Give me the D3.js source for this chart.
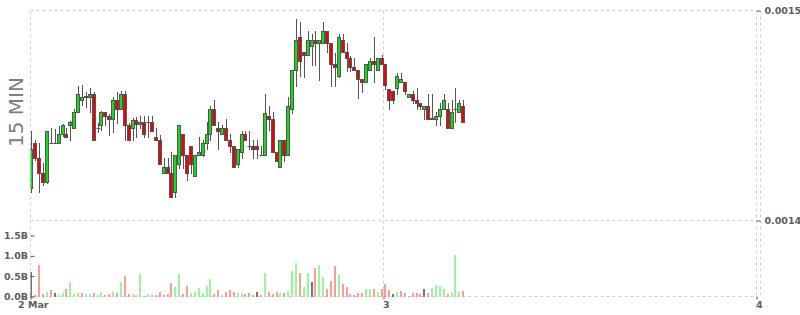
<!DOCTYPE html>
<html><head><meta charset="utf-8">
<script src="https://cdn.jsdelivr.net/npm/d3@7"></script>
<style>html,body{margin:0;padding:0;background:#fff;}svg{display:block;}</style>
</head><body>
<script>
// ---- data (15-minute candles) ----
const openPrice = [0.0014156,0.0014370,0.0014299,0.0014227,0.0014184,0.0014370,0.0014370,0.0014370,0.0014413,0.0014413,
0.0014456,0.0014441,0.0014518,0.0014575,0.0014589,0.0014589,0.0014603,0.0014441,0.0014456,0.0014518,
0.0014499,0.0014484,0.0014575,0.0014532,0.0014603,0.0014456,0.0014441,0.0014480,0.0014460,0.0014470,
0.0014470,0.0014470,0.0014399,0.0014384,0.0014227,0.0014256,0.0014227,0.0014137,0.0014270,0.0014413,
0.0014313,0.0014356,0.0014213,0.0014313,0.0014313,0.0014370,0.0014413,0.0014532,0.0014441,0.0014413,
0.0014441,0.0014384,0.0014356,0.0014270,0.0014327,0.0014413,0.0014356,0.0014356,0.0014356,0.0014313,
0.0014313,0.0014499,0.0014484,0.0014327,0.0014256,0.0014384,0.0014313,0.0014532,0.0014718,0.0014875,
0.0014803,0.0014789,0.0014832,0.0014860,0.0014846,0.0014846,0.0014903,0.0014846,0.0014746,0.0014689,
0.0014860,0.0014803,0.0014775,0.0014732,0.0014718,0.0014675,0.0014660,0.0014718,0.0014760,0.0014718,
0.0014775,0.0014746,0.0014627,0.0014618,0.0014632,0.0014660,0.0014660,0.0014589,0.0014603,0.0014575,
0.0014560,0.0014532,0.0014546,0.0014484,0.0014484,0.0014499,0.0014532,0.0014532,0.0014441,0.0014532,
0.0014518,0.0014546];
const highPrice = [0.0014427,0.0014384,0.0014370,0.0014275,0.0014427,0.0014441,0.0014437,0.0014451,0.0014460,0.0014441,
0.0014475,0.0014532,0.0014641,0.0014646,0.0014613,0.0014632,0.0014613,0.0014465,0.0014522,0.0014518,
0.0014508,0.0014589,0.0014613,0.0014618,0.0014618,0.0014465,0.0014489,0.0014494,0.0014499,0.0014499,
0.0014499,0.0014499,0.0014441,0.0014408,0.0014299,0.0014299,0.0014327,0.0014313,0.0014456,0.0014413,
0.0014313,0.0014356,0.0014313,0.0014399,0.0014384,0.0014470,0.0014546,0.0014575,0.0014470,0.0014456,
0.0014484,0.0014413,0.0014356,0.0014341,0.0014427,0.0014427,0.0014427,0.0014384,0.0014384,0.0014356,
0.0014603,0.0014546,0.0014518,0.0014327,0.0014384,0.0014384,0.0014589,0.0014718,0.0014961,0.0014946,
0.0014803,0.0014903,0.0014889,0.0014903,0.0014860,0.0014946,0.0014903,0.0014846,0.0014799,0.0014889,
0.0014889,0.0014846,0.0014784,0.0014775,0.0014718,0.0014675,0.0014746,0.0014775,0.0014875,0.0014775,
0.0014789,0.0014746,0.0014627,0.0014618,0.0014703,0.0014703,0.0014660,0.0014603,0.0014618,0.0014632,
0.0014560,0.0014546,0.0014603,0.0014603,0.0014518,0.0014560,0.0014603,0.0014560,0.0014575,0.0014632,
0.0014575,0.0014575];
const lowPrice = [0.0014137,0.0014289,0.0014137,0.0014170,0.0014180,0.0014370,0.0014370,0.0014370,0.0014403,0.0014399,
0.0014384,0.0014441,0.0014518,0.0014551,0.0014541,0.0014518,0.0014384,0.0014422,0.0014432,0.0014456,
0.0014408,0.0014422,0.0014465,0.0014532,0.0014384,0.0014384,0.0014384,0.0014399,0.0014441,0.0014399,
0.0014399,0.0014427,0.0014384,0.0014270,0.0014227,0.0014227,0.0014113,0.0014113,0.0014251,0.0014251,
0.0014194,0.0014227,0.0014213,0.0014313,0.0014308,0.0014341,0.0014384,0.0014456,0.0014341,0.0014413,
0.0014384,0.0014327,0.0014256,0.0014256,0.0014299,0.0014384,0.0014341,0.0014299,0.0014299,0.0014313,
0.0014313,0.0014432,0.0014327,0.0014284,0.0014256,0.0014284,0.0014313,0.0014513,0.0014641,0.0014689,
0.0014684,0.0014789,0.0014741,0.0014741,0.0014670,0.0014846,0.0014803,0.0014641,0.0014641,0.0014684,
0.0014803,0.0014713,0.0014713,0.0014718,0.0014584,0.0014613,0.0014660,0.0014718,0.0014660,0.0014718,
0.0014746,0.0014627,0.0014532,0.0014560,0.0014603,0.0014660,0.0014603,0.0014589,0.0014560,0.0014532,
0.0014532,0.0014484,0.0014484,0.0014484,0.0014456,0.0014456,0.0014532,0.0014441,0.0014441,0.0014470,
0.0014518,0.0014470];
const closePrice = [0.0014341,0.0014299,0.0014227,0.0014184,0.0014427,0.0014370,0.0014370,0.0014413,0.0014456,0.0014399,
0.0014470,0.0014518,0.0014603,0.0014589,0.0014594,0.0014603,0.0014384,0.0014441,0.0014518,0.0014499,
0.0014484,0.0014575,0.0014532,0.0014603,0.0014456,0.0014384,0.0014480,0.0014460,0.0014470,0.0014413,
0.0014470,0.0014427,0.0014384,0.0014270,0.0014256,0.0014227,0.0014113,0.0014313,0.0014456,0.0014313,
0.0014227,0.0014270,0.0014313,0.0014327,0.0014370,0.0014413,0.0014532,0.0014456,0.0014427,0.0014441,
0.0014384,0.0014356,0.0014256,0.0014341,0.0014413,0.0014384,0.0014356,0.0014341,0.0014341,0.0014313,
0.0014513,0.0014484,0.0014327,0.0014284,0.0014384,0.0014313,0.0014546,0.0014718,0.0014860,0.0014760,
0.0014789,0.0014860,0.0014860,0.0014846,0.0014860,0.0014903,0.0014846,0.0014746,0.0014732,0.0014875,
0.0014803,0.0014775,0.0014732,0.0014718,0.0014675,0.0014660,0.0014746,0.0014760,0.0014746,0.0014775,
0.0014746,0.0014646,0.0014575,0.0014575,0.0014689,0.0014675,0.0014618,0.0014603,0.0014575,0.0014560,
0.0014546,0.0014546,0.0014484,0.0014489,0.0014499,0.0014532,0.0014575,0.0014441,0.0014518,0.0014532,
0.0014560,0.0014470];
const volume = [6.1e8,0.4e8,7.8e8,0.7e8,1.2e8,1.5e8,0.8e8,0.4e8,0.9e8,1.9e8,
3.6e8,0.7e8,0.9e8,0.9e8,0.7e8,0.5e8,0.9e8,0.4e8,1.1e8,0.4e8,
0.5e8,1.1e8,0.9e8,3.6e8,5.1e8,0.7e8,0.7e8,0.4e8,5.6e8,0.2e8,
0.7e8,0.4e8,0.3e8,1.1e8,0.4e8,0.7e8,3.4e8,2.4e8,5.6e8,0.7e8,
2.6e8,0.9e8,1.1e8,2.1e8,0.9e8,2.6e8,4.3e8,0.7e8,1.6e8,0.4e8,
1.1e8,1.6e8,1.1e8,0.9e8,0.9e8,0.7e8,0.9e8,0.4e8,1.1e8,0.4e8,
5.8e8,1.1e8,0.7e8,1.1e8,0.9e8,0.9e8,1.4e8,6.3e8,8.3e8,5.8e8,
2.4e8,5.8e8,3.6e8,7.0e8,7.8e8,4.8e8,1.9e8,3.8e8,7.5e8,5.3e8,
3.1e8,2.4e8,0.7e8,0.4e8,0.9e8,0.9e8,1.9e8,1.9e8,1.9e8,1.1e8,
1.9e8,3.1e8,1.6e8,0.7e8,1.1e8,1.4e8,0.9e8,0.2e8,0.9e8,0.9e8,
0.7e8,1.9e8,0.9e8,2.1e8,2.9e8,2.6e8,1.9e8,0.7e8,0.9e8,10.2e8,
1.1e8,1.4e8];
const dayTickIndex = [-0.25, 90.5, 186.4];
const dayTickLabels = ["2 Mar", "3", "4"];
const priceTicks = [0.0014, 0.0015];
const volumeTicks = [0, 0.5e9, 1.0e9, 1.5e9];
const volumeTickLabels = ["0.0B", "0.5B", "1.0B", "1.5B"];
const intervalLabel = "15 MIN";

// ---- layout ----
const W = 800, H = 315;
const plotLeft = 30.5, plotRight = 756.5, plotTop = 10.5, priceBottom = 220.5, volBottom = 296.5;
const svg = d3.select("body").append("svg").attr("width", W).attr("height", H);
svg.append("rect").attr("width", W).attr("height", H).attr("fill", "#fff");

const x = d3.scaleLinear().domain([dayTickIndex[0], dayTickIndex[2]]).range([plotLeft, plotRight]);
const y = d3.scaleLinear().domain([priceTicks[0], priceTicks[1]]).range([priceBottom, plotTop]);
const vy = d3.scaleLinear().domain([0, 1.5e9]).range([volBottom, 235.5]);
const n = closePrice.length;
const idx = d3.range(n);

// ---- grid ----
const grid = svg.append("g").attr("stroke", "#d2d2d2").attr("stroke-dasharray", "3,3").attr("fill", "none");
[plotTop, priceBottom, volBottom].forEach(gy => grid.append("line").attr("x1", plotLeft).attr("x2", plotRight).attr("y1", gy).attr("y2", gy));
dayTickIndex.forEach(t => grid.append("line").attr("x1", x(t)).attr("x2", x(t)).attr("y1", plotTop).attr("y2", volBottom));
grid.append("line").attr("x1", plotRight + 4).attr("x2", plotRight + 4).attr("y1", plotTop).attr("y2", volBottom);

// ---- clip ----
svg.append("defs").append("clipPath").attr("id", "plotclip")
  .append("rect").attr("x", plotLeft).attr("y", 0).attr("width", plotRight - plotLeft).attr("height", volBottom + 0.5);
const plot = svg.append("g").attr("clip-path", "url(#plotclip)");

const col = i => Math.round(x(i) - 1);

// ---- volume ----
const volColor = i => {
  if (i === 0 || closePrice[i] === closePrice[i - 1]) return "#777777";
  return closePrice[i] > closePrice[i - 1] ? "#98f898" : "#ff9a9a";
};
plot.append("g").selectAll("rect").data(idx).join("rect")
  .attr("x", i => col(i))
  .attr("width", 2)
  .attr("y", i => Math.round(vy(volume[i])))
  .attr("height", i => volBottom + 0.5 - Math.round(vy(volume[i])))
  .attr("fill", volColor);

// ---- candles ----
const cg = plot.append("g");
cg.selectAll("line.wick").data(idx).join("line").attr("class", "wick")
  .attr("x1", i => col(i) + 1.5).attr("x2", i => col(i) + 1.5)
  .attr("y1", i => Math.round(y(highPrice[i]))).attr("y2", i => Math.round(y(lowPrice[i])) + 1)
  .attr("stroke", "#555").attr("stroke-width", 1);
idx.forEach(i => {
  const t = Math.round(y(Math.max(openPrice[i], closePrice[i]))) + 0.5;
  const b = Math.round(y(Math.min(openPrice[i], closePrice[i]))) + 0.5;
  const c = col(i);
  if (b - t < 1) {
    cg.append("line").attr("x1", c - 0.5).attr("x2", c + 3.5).attr("y1", t).attr("y2", t)
      .attr("stroke", "#555").attr("stroke-width", 1);
  } else {
    cg.append("rect").attr("x", c - 0.5).attr("y", t).attr("width", 3).attr("height", b - t)
      .attr("fill", closePrice[i] > openPrice[i] ? "#10e010" : "#f00000")
      .attr("stroke", "#555").attr("stroke-width", 1);
  }
});

// ---- axes ----
const font = g => g.selectAll("text").attr("font-family", "DejaVu Sans, Verdana, sans-serif")
  .attr("font-size", "9.5px").attr("font-weight", "bold").attr("fill", "#5c5c5c");
const tickCol = g => { g.select(".domain").remove(); g.selectAll(".tick line").attr("stroke", "#555"); };

svg.append("g").attr("transform", `translate(${plotRight},0)`)
  .call(d3.axisRight(y).tickValues(priceTicks).tickFormat(d3.format(".4f")).tickSize(4).tickPadding(4))
  .call(tickCol).call(font);

svg.append("g").attr("transform", `translate(${plotLeft},0)`)
  .call(d3.axisLeft(vy).tickValues(volumeTicks).tickFormat(d => volumeTickLabels[volumeTicks.indexOf(d)])
    .tickSizeInner(-4).tickSizeOuter(0).tickPadding(2.5))
  .call(tickCol).call(font);

svg.append("g").attr("transform", `translate(0,${volBottom})`)
  .call(d3.axisBottom(x).tickValues(dayTickIndex).tickFormat(d => dayTickLabels[dayTickIndex.indexOf(d)])
    .tickSize(3).tickPadding(2))
  .call(tickCol).call(font)
  .call(g => g.selectAll("text").attr("dx", "2.3"));

// ---- interval label ----
svg.append("text").attr("transform", "translate(23,112) rotate(-90)")
  .attr("text-anchor", "middle").attr("font-family", "DejaVu Sans, Verdana, sans-serif")
  .attr("font-size", "20px").attr("fill", "#808080").text(intervalLabel);
</script>
</body></html>
